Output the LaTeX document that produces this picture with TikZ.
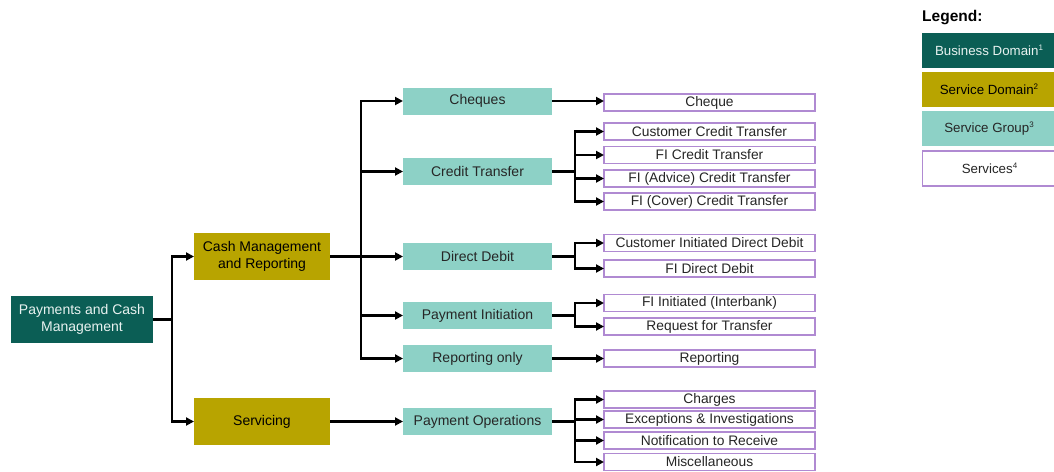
\documentclass[tikz,border=0pt]{standalone}
\usepackage{fontspec}
\setmainfont{Liberation Sans}
\usetikzlibrary{arrows.meta}
\definecolor{bdom}{HTML}{0B5E55}
\definecolor{sdom}{HTML}{B8A400}
\definecolor{sgrp}{HTML}{8DD1C6}
\definecolor{svcb}{HTML}{B08AD2}
\definecolor{bdtxt}{HTML}{E8F2F0}
\newcommand{\supnum}[1]{\raisebox{0.35em}{\fontsize{8}{8}\selectfont #1}}
\tikzset{
  base/.style={inner sep=0pt, outer sep=0pt, align=center, font=\fontsize{14}{16.8}\selectfont},
  bdbox/.style={base, fill=bdom, text=bdtxt, minimum width=142pt, minimum height=47pt},
  sdbox/.style={base, fill=sdom, text=black, minimum width=136pt, minimum height=47pt},
  sgbox/.style={base, fill=sgrp, text=black!85, minimum width=149pt, minimum height=27pt},
  svbox/.style={base, fill=white, draw=svcb, line width=1.1pt, text=black!85, minimum width=211pt, minimum height=17pt, font=\fontsize{13.8}{15}\selectfont},
  lgbox/.style={inner sep=0pt, outer sep=0pt, minimum width=134pt, minimum height=35pt, font=\fontsize{13.3}{15}\selectfont},
  conn/.style={line width=2.4pt, black, -{Triangle[length=8pt,width=8pt]}}
}
\begin{document}
\begin{tikzpicture}[x=1pt,y=-1pt]
\clip (0,0) rectangle (1054,471);
\fill[white] (0,0) rectangle (1054,471);
% business domain
\node[bdbox] (pcm) at (82,319.5) {Payments and Cash\\Management};
% service domains
\node[sdbox] (cmr) at (262,256.5) {Cash Management\\and Reporting};
\node[sdbox] (serv) at (262,421.5) {Servicing};
% service groups
\node[sgbox] (chq) at (477.5,101) {Cheques};
\node[sgbox] (ctr) at (477.5,171.5) {Credit Transfer};
\node[sgbox] (ddb) at (477.5,256.5) {Direct Debit};
\node[sgbox] (pin) at (477.5,315.5) {Payment Initiation};
\node[sgbox] (rpo) at (477.5,358.5) {Reporting only};
\node[sgbox] (pop) at (477.5,421.5) {Payment Operations};
% services
\node[svbox] (s1) at (709.5,102.5) {Cheque};
\node[svbox] (s2) at (709.5,131.5) {Customer Credit Transfer};
\node[svbox] (s3) at (709.5,155) {FI Credit Transfer};
\node[svbox] (s4) at (709.5,178.5) {FI (Advice) Credit Transfer};
\node[svbox] (s5) at (709.5,201.5) {FI (Cover) Credit Transfer};
\node[svbox] (s6) at (709.5,243) {Customer Initiated Direct Debit};
\node[svbox] (s7) at (709.5,268.5) {FI Direct Debit};
\node[svbox] (s8) at (709.5,303) {FI Initiated (Interbank)};
\node[svbox] (s9) at (709.5,326.5) {Request for Transfer};
\node[svbox] (s10) at (709.5,358.5) {Reporting};
\node[svbox] (s11) at (709.5,399.5) {Charges};
\node[svbox] (s12) at (709.5,419.5) {Exceptions \& Investigations};
\node[svbox] (s13) at (709.5,440.5) {Notification to Receive};
\node[svbox] (s14) at (709.5,462) {Miscellaneous};
% connectors
\draw[conn] (pcm.east) -- ++(19,0) |- (cmr.west);
\draw[conn] (pcm.east) -- ++(19,0) |- (serv.west);
\foreach \g in {chq,ctr,ddb,pin,rpo}{
  \draw[conn] (cmr.east) -- ++(31,0) |- (\g.west);
}
\draw[conn] (serv.east) -- (pop.west);
\draw[conn] (chq.east) -- (s1.west |- chq.east);
\foreach \s in {s2,s3,s4,s5}{
  \draw[conn] (ctr.east) -- ++(23,0) |- (\s.west);
}
\foreach \s in {s6,s7}{
  \draw[conn] (ddb.east) -- ++(23,0) |- (\s.west);
}
\foreach \s in {s8,s9}{
  \draw[conn] (pin.east) -- ++(23,0) |- (\s.west);
}
\draw[conn] (rpo.east) -- (s10.west);
\foreach \s in {s11,s12,s13,s14}{
  \draw[conn] (pop.east) -- ++(23,0) |- (\s.west);
}
% legend
\node[anchor=west, inner sep=0pt, font=\bfseries\fontsize{15.5}{17}\selectfont] (lgt) at (922,18) {Legend:};
\node[lgbox, fill=bdom, text=bdtxt, anchor=north west] (l1) at (922,33) {Business Domain\supnum{1}};
\node[lgbox, fill=sdom, text=black, anchor=north west] (l2) at (922,71.5) {Service Domain\supnum{2}};
\node[lgbox, fill=sgrp, text=black!85, anchor=north west] (l3) at (922,111) {Service Group\supnum{3}};
\node[lgbox, fill=white, draw=svcb, line width=1.2pt, text=black!85, anchor=north west] (l4) at (922.5,151) {Services\supnum{4}};
\end{tikzpicture}
\end{document}
